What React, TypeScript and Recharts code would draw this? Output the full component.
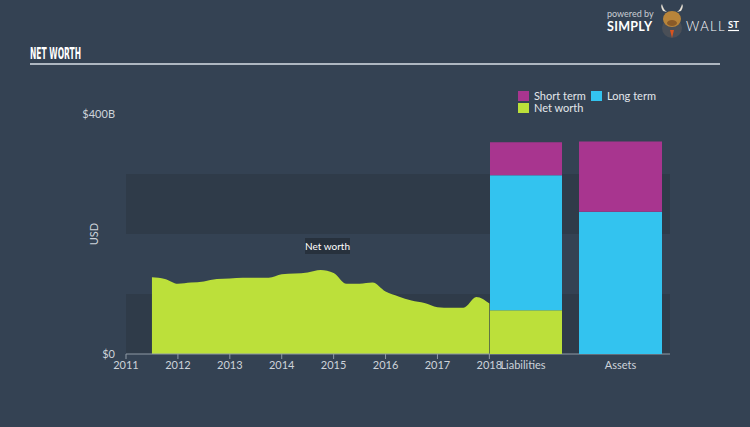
import React from 'react'
import { AreaChart, Area, XAxis, YAxis, ReferenceArea, BarChart, Bar } from 'recharts'

// Net worth history (USD billions), read quarter by quarter
const quarters = [
  2011.5, 2011.75, 2012, 2012.25, 2012.5, 2012.75, 2013, 2013.25, 2013.5, 2013.75,
  2014, 2014.25, 2014.5, 2014.75, 2015, 2015.25, 2015.5, 2015.75, 2016, 2016.25,
  2016.5, 2016.75, 2017, 2017.25, 2017.5, 2017.75, 2018,
]
const netWorthHistory = [
  128, 125, 117, 119, 121, 125, 126, 127, 127, 127,
  133, 134, 136, 140, 135, 117, 117, 119, 104, 96,
  89, 85, 78, 77, 77, 95, 84,
]
const yearTicks = [2011, 2012, 2013, 2014, 2015, 2016, 2017, 2018]
const valueTicks = [0, 400]

// Balance sheet bars (USD billions)
const bsCategories = ['Liabilities', 'Assets']
const bsNetWorth = [73, 0]
const bsLongTerm = [225, 237]
const bsShortTerm = [55, 117]

const FONT = 'Lato, "Open Sans", sans-serif'
const BG = '#344253'
const BAND = '#2f3b49'
const LIME = '#bce03a'
const CYAN = '#33c3ef'
const MAGENTA = '#a8358f'
const TEXT = '#cdd3da'
const AXIS = '#8f9aa6'

const historyData = quarters.map((q, i) => ({ x: q, netWorth: netWorthHistory[i] }))

const barLayout = [
  { left: 490, width: 72, dx: -3 },
  { left: 579, width: 83, dx: 0 },
]

const legendItems = [
  { label: 'Short term', color: MAGENTA, left: 518, top: 91 },
  { label: 'Long term', color: CYAN, left: 591, top: 91 },
  { label: 'Net worth', color: LIME, left: 518, top: 103 },
]

const Logo = () => (
  <svg width={150} height={45} style={{ position: 'absolute', left: 600, top: 0 }}>
    <text x={7} y={17} fill="#c9ced4" fontSize={9} fontFamily={FONT}>powered by</text>
    <text x={7} y={31} fill="#ffffff" fontSize={12.5} fontWeight={700} fontFamily={FONT} letterSpacing={0.3}>SIMPLY</text>
    {/* bull mascot */}
    <circle cx={72} cy={28} r={10} fill="#4a4f57" />
    <path d="M63 11 Q60 6 62 4 Q63 9 67 12 Z" fill="#e8e2d6" />
    <path d="M81 11 Q84 6 82 4 Q81 9 77 12 Z" fill="#e8e2d6" />
    <ellipse cx={72} cy={19} rx={9} ry={8} fill="#b8843a" />
    <ellipse cx={72} cy={23} rx={5} ry={3} fill="#8a5a28" />
    <path d="M70 30 L74 30 L72 38 Z" fill="#d9531e" />
    <text x={86} y={31} fill="#ffffff" fontSize={13} fontWeight={300} fontFamily={FONT} letterSpacing={1.4}>WALL</text>
    <text x={128} y={28} fill="#ffffff" fontSize={9.5} fontWeight={700} fontFamily={FONT}>ST</text>
    <line x1={128} y1={30.5} x2={139} y2={30.5} stroke="#ffffff" strokeWidth={1.2} />
  </svg>
)

const UsdLabel = (props: any) => {
  const { viewBox } = props
  const cy = viewBox.y + viewBox.height / 2
  return (
    <text x={98} y={cy} transform={`rotate(-90, 98, ${cy})`} textAnchor="middle" fill={TEXT} fontSize={11} fontFamily={FONT}>
      USD
    </text>
  )
}

export default function App() {
  return (
    <div style={{ position: 'absolute', left: 0, top: 0, width: 750, height: 427, background: BG, fontFamily: FONT, overflow: 'hidden' }}>
      {/* Title */}
      <svg width={750} height={70} style={{ position: 'absolute', left: 0, top: 0 }}>
        <text x={30} y={59} fill="#ffffff" fontSize={16} fontWeight={700} fontFamily='"DejaVu Sans Condensed", "Liberation Sans Narrow", sans-serif' textLength={51} lengthAdjust="spacingAndGlyphs">
          NET WORTH
        </text>
        <line x1={30} y1={64} x2={720} y2={64} stroke="#aeb7c1" strokeWidth={2} />
      </svg>
      <Logo />

      {/* Net worth history */}
      <div style={{ position: 'absolute', left: 0, top: 0 }}>
        <AreaChart width={750} height={427} data={historyData} margin={{ top: 114, right: 80, bottom: 43, left: 0 }}>
          <ReferenceArea y1={0} y2={100} fill={BAND} fillOpacity={1} stroke="none" ifOverflow="hidden" />
          <ReferenceArea y1={200} y2={300} fill={BAND} fillOpacity={1} stroke="none" ifOverflow="hidden" />
          <XAxis
            dataKey="x"
            type="number"
            domain={[2011, 2021.48]}
            ticks={yearTicks}
            interval={0}
            height={30}
            tickSize={5}
            tickMargin={2}
            stroke={AXIS}
            tick={{ fill: TEXT, fontSize: 11, fontFamily: FONT }}
          />
          <YAxis
            width={126}
            domain={[0, 400]}
            ticks={valueTicks}
            tickSize={0}
            tickMargin={11}
            axisLine={false}
            tickLine={false}
            tickFormatter={(v: number) => (v === 0 ? '$0' : `$${v}B`)}
            tick={{ fill: TEXT, fontSize: 11, fontFamily: FONT }}
            label={<UsdLabel />}
          />
          <Area
            dataKey="netWorth"
            type="monotone"
            stroke="none"
            fill={LIME}
            fillOpacity={1}
            dot={false}
            activeDot={false}
            isAnimationActive={false}
          />
        </AreaChart>
      </div>

      {/* Balance sheet bars */}
      {bsCategories.map((name, i) => (
        <div key={name} style={{ position: 'absolute', left: barLayout[i].left, top: 0 }}>
          <BarChart
            width={barLayout[i].width}
            height={427}
            data={[{ name, netWorth: bsNetWorth[i], longTerm: bsLongTerm[i], shortTerm: bsShortTerm[i] }]}
            margin={{ top: 114, right: 0, bottom: 43, left: 0 }}
            barCategoryGap={0}
            style={{ overflow: 'visible' }}
          >
            <XAxis
              dataKey="name"
              height={30}
              interval={0}
              tickLine={false}
              axisLine={false}
              tickSize={5}
              tickMargin={2}
              tick={{ fill: TEXT, fontSize: 11, fontFamily: FONT, dx: barLayout[i].dx }}
            />
            <YAxis hide domain={[0, 400]} />
            <Bar dataKey="netWorth" stackId="a" fill={LIME} isAnimationActive={false} />
            <Bar dataKey="longTerm" stackId="a" fill={CYAN} isAnimationActive={false} />
            <Bar dataKey="shortTerm" stackId="a" fill={MAGENTA} isAnimationActive={false} />
          </BarChart>
        </div>
      ))}

      {/* Legend */}
      {legendItems.map((item) => (
        <div key={item.label} style={{ position: 'absolute', left: item.left, top: item.top, display: 'flex', alignItems: 'center', height: 10 }}>
          <div style={{ width: 11, height: 10, background: item.color, marginRight: 5 }} />
          <span style={{ color: '#e3e7eb', fontSize: 11, lineHeight: '10px', whiteSpace: 'nowrap' }}>{item.label}</span>
        </div>
      ))}

      {/* Series label */}
      <div style={{ position: 'absolute', left: 305, top: 238, width: 45, height: 16, background: '#27313d', color: '#ffffff', fontSize: 10, lineHeight: '16px', textAlign: 'center', whiteSpace: 'nowrap' }}>
        Net worth
      </div>
    </div>
  )
}
